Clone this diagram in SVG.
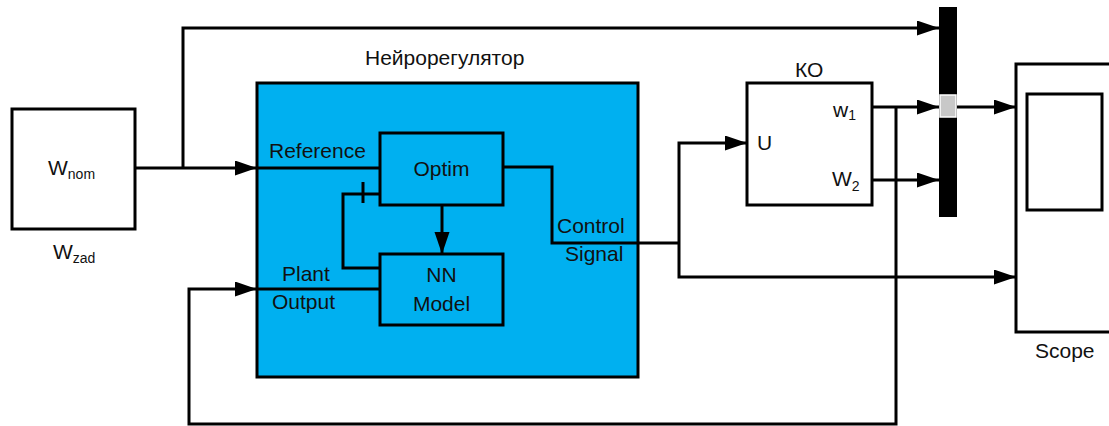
<svg xmlns="http://www.w3.org/2000/svg" width="1109" height="426" viewBox="0 0 1109 426">
<style>
text{font-family:"Liberation Sans",Arial,sans-serif;font-size:21px;fill:#111}
.sub{font-size:14px}
.box{fill:#fff;stroke:#000;stroke-width:3}
.blue{fill:#00B0F0;stroke:#000;stroke-width:3}
.inner{fill:none;stroke:#000;stroke-width:3}
.wire{fill:none;stroke:#000;stroke-width:3}
.arr{fill:none;stroke:#000;stroke-width:3;marker-end:url(#ah)}
</style>
<defs>
<marker id="ah" markerUnits="userSpaceOnUse" markerWidth="24" markerHeight="16" refX="22" refY="7.5" orient="auto">
<path d="M0,0 L22,7.5 L0,15 z" fill="#000"/>
</marker>
</defs>
<rect width="1109" height="426" fill="#fff"/>

<g id="wnom">
<rect class="box" x="12" y="109" width="123" height="120"/>
<text x="48" y="175">W<tspan class="sub" dy="4">nom</tspan></text>
<text x="53" y="259">W<tspan class="sub" dy="4">zad</tspan></text>
</g>

<g id="neuroregulator">
<text x="365" y="65">Нейрорегулятор</text>
<rect class="blue" x="257" y="83" width="381" height="294"/>
<text x="269" y="158">Reference</text>
<text x="282" y="281">Plant</text>
<text x="272" y="309">Output</text>
<text x="557" y="233">Control</text>
<text x="565" y="261">Signal</text>
</g>

<g id="optim">
<rect class="inner" x="380" y="133" width="123" height="72"/>
<text x="441.5" y="176" text-anchor="middle">Optim</text>
</g>

<g id="nnmodel">
<rect class="inner" x="380" y="254" width="123" height="71"/>
<text x="441.5" y="282" text-anchor="middle">NN</text>
<text x="441.5" y="311" text-anchor="middle">Model</text>
</g>

<g id="ko">
<text x="795" y="77">КО</text>
<rect class="box" x="747" y="83" width="125" height="122"/>
<text x="757" y="150">U</text>
<text x="833" y="117">w<tspan class="sub" dy="3">1</tspan></text>
<text x="832" y="186">W<tspan class="sub" dy="5">2</tspan></text>
</g>

<g id="mux">
<rect x="939" y="7" width="18" height="210" fill="#000"/>
<rect x="940" y="95" width="16" height="22" fill="#c8c8c8" stroke="#fff" stroke-width="1.5"/>
</g>

<g id="scope">
<rect class="box" x="1016" y="64" width="96" height="268"/>
<rect class="inner" x="1027" y="94" width="75" height="116"/>
<text x="1035" y="358">Scope</text>
</g>

<g id="connectors">
<path class="arr" d="M135,168 H257"/>
<path class="arr" d="M183,168 V28 H939"/>
<path class="wire" d="M257,168 H380"/>
<path class="arr" d="M442,205 V254"/>
<path class="wire" d="M380,194 H343 V268 H380"/>
<path class="wire" d="M363,182 V203"/>
<path class="wire" d="M257,289 H380"/>
<path class="wire" d="M503,167 H552 V243 H679"/>
<path class="arr" d="M679,243 V143 H747"/>
<path class="arr" d="M679,243 V277 H1016"/>
<path class="arr" d="M872,107 H939"/>
<path class="arr" d="M872,180 H939"/>
<path class="arr" d="M896,107 V424 H189 V289 H257"/>
<path class="arr" d="M957,107 H1016"/>
</g>
</svg>
